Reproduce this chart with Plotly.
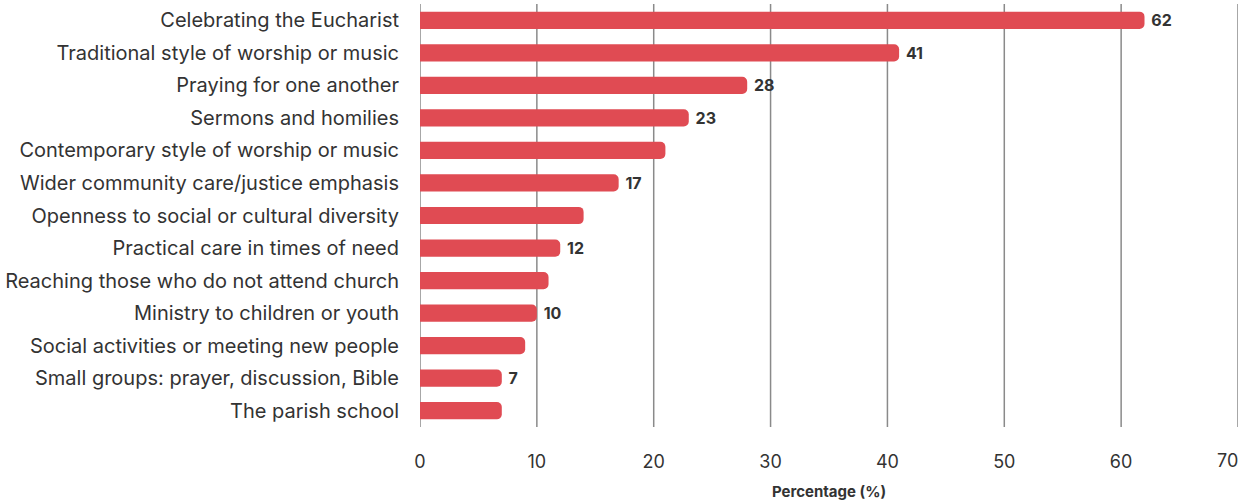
import plotly.graph_objects as go

categories = [
    "Celebrating the Eucharist",
    "Traditional style of worship or music",
    "Praying for one another",
    "Sermons and homilies",
    "Contemporary style of worship or music",
    "Wider community care/justice emphasis",
    "Openness to social or cultural diversity",
    "Practical care in times of need",
    "Reaching those who do not attend church",
    "Ministry to children or youth",
    "Social activities or meeting new people",
    "Small groups: prayer, discussion, Bible",
    "The parish school",
]
values = [62, 41, 28, 23, 21, 17, 14, 12, 11, 10, 9, 7, 7]
value_labels = ["62", "41", "28", "23", "", "17", "", "12", "", "10", "", "7", ""]
x_ticks = [0, 10, 20, 30, 40, 50, 60, 70]
x_tick_labels = ["0", "10", "20", "30", "40", "50", "60", "70"]

fig = go.Figure(go.Bar(
    y=categories,
    x=values,
    orientation="h",
    marker=dict(color="#E04B53", cornerradius=5, line=dict(width=0)),
    text=[(" " + t) if t else "" for t in value_labels],
    textposition="outside",
    constraintext="none",
    textfont=dict(family="Inter", size=16, color="#333333", weight="bold"),
    cliponaxis=False,
))

fig.update_layout(
    width=1254, height=504,
    margin=dict(l=420, r=16, t=4, b=77, autoexpand=False),
    plot_bgcolor="white", paper_bgcolor="white",
    bargap=0.47,
    showlegend=False,
    font=dict(family="Inter", color="#333333"),
)
# last tick label drawn right-aligned so it stays inside the figure
fig.add_annotation(
    x=x_ticks[-1], y=0, xref="x", yref="paper",
    text=x_tick_labels[-1], showarrow=False,
    xanchor="right", yanchor="top", yshift=-21, xshift=2,
    font=dict(size=18, color="#333333", family="Inter"),
)
fig.update_xaxes(
    range=[0, 70], tickvals=x_ticks[:-1], ticktext=x_tick_labels[:-1],
    showgrid=False,
    zeroline=False,
    tickfont=dict(size=18, color="#333333"),
    ticklabelstandoff=22,
    title=dict(text="Percentage (%)", font=dict(size=15, color="#333333", weight="bold"), standoff=15),
    showline=False, automargin=False,
)
for v in x_ticks:
    fig.add_vline(x=v, line=dict(color="#8a8a8a", width=1.5), layer="below")
fig.update_yaxes(
    autorange="reversed",
    tickfont=dict(size=20, color="#333333"),
    ticklabelstandoff=20,
    showgrid=False, automargin=False,
)

fig.write_html("out.html", post_script="document.body.style.margin='0';",
               config={"displayModeBar": False})
